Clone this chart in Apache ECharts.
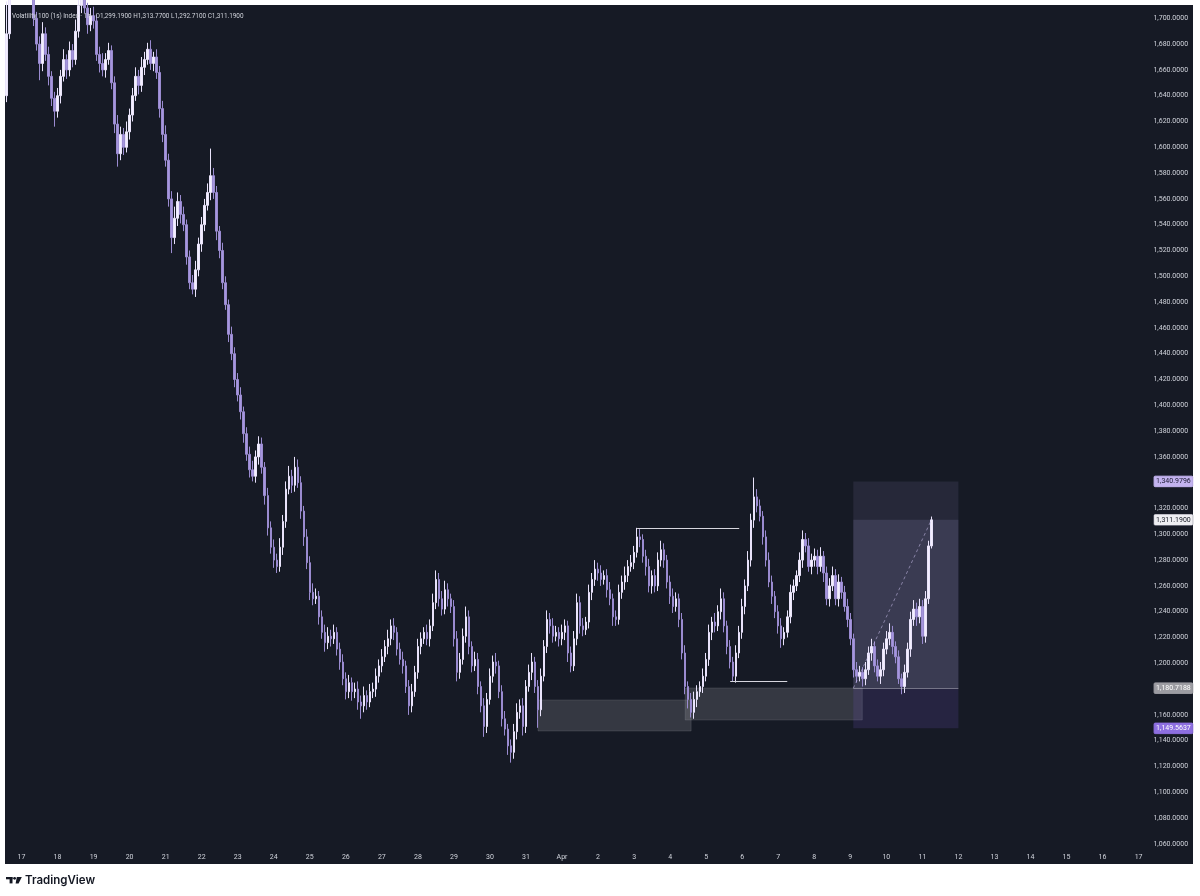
<!DOCTYPE html>
<html>
<head>
<meta charset="utf-8">
<script src="https://cdn.jsdelivr.net/npm/echarts@6/dist/echarts.min.js"></script>
<style>
html,body{margin:0;padding:0;background:#ffffff;}
#chart{width:1200px;height:896px;}
</style>
</head>
<body>
<div id="chart"></div>
<script>
// ---------- DATA ----------
const seriesTitle = 'Volatility 100 (1s) Index · 1h · O1,299.1900 H1,313.7700 L1,292.7100 C1,311.1900';
const startTimeUTC = Date.UTC(2025, 2, 16, 14);   // first bar: 16 Mar 14:00
const barHours = 2;
const totalBars = 381;                             // bars across the time scale (to 17 Apr)
const monthNames = ['Jan','Feb','Mar','Apr','May','Jun','Jul','Aug','Sep','Oct','Nov','Dec'];

const firstOpen = 1640;
const closes = [
 1688,1715,1726,1731,1722,
 1725,1730,1724,1716,1700,1680,1665,1688,1672,1655,1638,1628,
 1640,1655,1668,1660,1675,1668,1690,1710,1716,1708,1695,1702,
 1698,1672,1665,1660,1668,1675,1650,1618,1595,1610,1600,1612,
 1625,1640,1655,1648,1662,1668,1676,1665,1670,1658,1630,1610,
 1590,1560,1530,1545,1558,1548,1540,1515,1495,1490,1505,1525,
 1540,1555,1565,1578,1565,1535,1520,1495,1478,1455,1440,1420,
 1408,1395,1378,1362,1350,1345,1360,1370,1352,1330,1305,1290,
 1280,1275,1290,1310,1335,1345,1338,1352,1340,1318,1298,1278,
 1255,1250,1252,1236,1224,1216,1221,1219,1224,1211,1201,1188,
 1178,1185,1178,1180,1170,1167,1175,1170,1178,1180,1190,1198,
 1205,1213,1219,1229,1224,1211,1203,1198,1182,1167,1178,1193,
 1213,1219,1224,1219,1229,1247,1265,1250,1242,1257,1250,1244,
 1219,1193,1203,1221,1236,1213,1198,1203,1182,1167,1151,1172,
 1190,1201,1198,1178,1157,1149,1136,1131,1147,1162,1167,1151,
 1182,1193,1201,1182,1164,1190,1213,1234,1229,1221,1224,1219,
 1224,1229,1208,1198,1219,1247,1229,1226,1232,1255,1265,1273,
 1270,1265,1268,1257,1250,1236,1234,1255,1263,1268,1275,1278,
 1286,1298,1296,1283,1275,1260,1268,1260,1280,1288,1280,1263,
 1252,1244,1250,1234,1208,1182,1172,1162,1172,1178,1182,1190,
 1203,1224,1232,1229,1240,1250,1229,1213,1201,1190,1208,1224,
 1244,1260,1280,1311,1329,1322,1314,1298,1280,1263,1252,1240,
 1229,1219,1224,1236,1255,1260,1268,1280,1296,1291,1275,1280,
 1283,1275,1283,1270,1250,1260,1268,1250,1263,1255,1244,1234,
 1219,1195,1190,1193,1188,1195,1208,1213,1198,1190,1195,1211,
 1219,1224,1213,1205,1188,1182,1193,1211,1234,1242,1236,1244,
 1221,1250,1291,1311.19
];
const upperWick = [
 25,8,6,5,7,
 6,5,8,6,7,5,6,9,5,6,4,5,
 6,5,8,4,7,5,9,6,5,7,4,6,
 7,5,6,8,5,6,4,5,7,6,5,8,
 5,6,7,5,8,6,5,7,4,6,5,6,
 7,5,6,9,7,5,6,4,5,6,7,5,
 6,5,7,21,6,5,4,6,5,4,6,5,
 5,6,4,5,6,7,5,6,5,4,6,5,
 6,5,7,5,6,8,5,8,6,5,4,6,
 5,7,6,4,5,6,7,5,6,4,5,6,
 5,6,4,5,6,5,7,4,6,5,6,5,
 6,5,7,5,6,4,5,6,4,5,6,5,
 6,5,4,6,5,7,7,5,6,7,5,4,
 5,6,5,6,8,5,4,6,5,4,6,5,
 6,5,7,4,5,6,4,5,6,7,5,6,
 5,6,7,4,5,6,5,7,5,6,5,4,
 6,5,4,5,6,7,5,6,4,6,5,7,
 5,6,4,5,6,4,5,6,5,7,5,6,
 5,7,6,4,5,6,4,5,6,7,5,4,
 5,6,5,4,5,6,4,5,6,5,4,6,
 5,6,4,7,5,8,5,4,5,4,6,5,
 6,5,7,5,15,6,5,4,5,6,5,4,
 5,6,4,5,6,5,4,6,7,5,6,5,
 6,5,7,4,5,6,7,5,6,4,5,6,
 5,4,6,5,4,6,5,6,4,5,6,5,
 6,7,5,4,5,4,6,5,6,7,5,6,
 5,6,4,2.58
];
const lowerWick = [
 5,4,3,5,5,
 4,5,5,3,6,5,13,6,5,7,6,12,
 5,6,4,7,5,6,4,5,6,4,7,5,
 6,5,7,5,6,4,5,7,10,5,6,4,
 6,5,4,7,5,6,4,5,6,5,7,6,
 5,6,12,5,6,7,5,6,5,4,6,5,
 6,5,4,6,5,7,6,5,4,6,5,6,
 5,6,7,5,6,4,5,6,5,7,6,5,
 6,5,4,6,5,4,6,5,4,6,7,5,
 6,5,4,6,5,7,5,6,4,5,6,5,
 6,5,7,5,6,10,5,6,4,5,6,5,
 5,4,6,5,6,5,4,6,5,7,5,4,
 5,6,4,5,6,4,5,6,5,4,6,5,
 6,7,5,4,5,6,5,4,6,5,8,5,
 4,5,6,5,6,5,7,8,5,6,5,7,
 5,4,6,5,14,5,4,5,6,5,4,6,
 5,6,7,5,4,5,6,5,4,5,6,5,
 6,5,4,6,5,7,5,4,5,6,5,4,
 5,4,6,5,7,5,6,5,4,5,6,5,
 6,5,4,6,5,6,7,4,5,6,4,5,
 4,5,6,5,4,6,5,6,5,4,5,4,
 5,6,4,5,6,5,4,6,5,4,6,5,
 6,7,5,4,5,6,4,5,6,5,4,6,
 5,6,4,7,5,6,4,5,6,5,4,6,
 5,6,5,4,6,5,4,6,5,4,6,5,
 4,5,6,5,4,6,5,4,6,5,7,5,
 6,5,4,2
];

// price scale
const priceMin = 1040, priceMax = 1710.31, priceInterval = 20;
const priceLabelRange = [1060, 1700];
const hiddenPriceTicks = [1340, 1180];

// drawings: [startBar, endBar, top, bottom]
const demandZones = [
  [177, 228, 1171.6, 1147.5],
  [226, 285, 1180.9, 1156.0]
];
// horizontal rays: [startBar, endBar, price]
const levelLines = [
  [210, 244, 1304.9],
  [241, 260, 1186.3]
];
// long position tool
const longPos = { startBar: 282, endBar: 317, entryBar: 282, lastBar: 308,
  target: 1340.9796, entry: 1180.7188, stop: 1149.5637, last: 1311.19 };

// ---------- BUILD ----------
function fmt(v){
  const s = v.toFixed(4).split('.');
  return s[0].replace(/\B(?=(\d{3})+(?!\d))/g, ',') + '.' + s[1];
}
const categories = [];
for (let k = 0; k < totalBars; k++) {
  const d = new Date(startTimeUTC + k * barHours * 3600e3);
  categories.push(d.getUTCFullYear() + '-' + (d.getUTCMonth()+1) + '-' + d.getUTCDate() + ' ' + d.getUTCHours());
}
const ohlc = closes.map((c, i) => {
  const o = i === 0 ? firstOpen : closes[i-1];
  return [o, c, Math.min(o, c) - lowerWick[i], Math.max(o, c) + upperWick[i]];
});

const FONT = 'Roboto, "Open Sans", sans-serif';
const TXT = '#d1d4dc';

const priceTags = [
  { v: longPos.target, bg: '#c3b3ef', fg: '#1c1a33', border: '#c3b3ef' },
  { v: longPos.last,   bg: '#eeeef2', fg: '#131722', border: '#9a9aa8' },
  { v: longPos.entry,  bg: '#9c9ca2', fg: '#ffffff', border: '#9c9ca2' },
  { v: longPos.stop,   bg: '#8d6fe0', fg: '#ffffff', border: '#8d6fe0' }
];

const markLineData = [];
priceTags.forEach(t => markLineData.push({
  yAxis: t.v,
  lineStyle: { color: 'rgba(0,0,0,0)', width: 0 },
  label: { show: true, position: 'end', distance: 5, formatter: fmt(t.v),
    backgroundColor: t.bg, borderColor: t.border, borderWidth: 0.5, color: t.fg, fontSize: 7, fontFamily: FONT,
    padding: [2, 2, 1.5, 2], borderRadius: 1 }
}));
levelLines.forEach(l => markLineData.push([
  { xAxis: l[0], yAxis: l[2], lineStyle: { color: '#d6d6de', width: 1, type: 'solid' }, label: { show: false } },
  { xAxis: l[1], yAxis: l[2] }
]));
markLineData.push([
  { xAxis: longPos.entryBar, yAxis: longPos.entry, lineStyle: { color: 'rgba(200,190,235,0.55)', width: 1, type: [3, 3] }, label: { show: false } },
  { xAxis: longPos.lastBar, yAxis: longPos.last }
]);
markLineData.push([
  { xAxis: longPos.startBar, yAxis: longPos.entry, lineStyle: { color: 'rgba(210,210,220,0.45)', width: 1, type: 'solid' }, label: { show: false } },
  { xAxis: longPos.endBar, yAxis: longPos.entry }
]);

const markAreaData = [];
demandZones.forEach(z => markAreaData.push([
  { xAxis: z[0], yAxis: z[2], itemStyle: { color: 'rgba(205,205,215,0.17)', borderColor: 'rgba(220,220,230,0.12)', borderWidth: 1 } },
  { xAxis: z[1], yAxis: z[3] }
]));
markAreaData.push([
  { xAxis: longPos.startBar, yAxis: longPos.target, itemStyle: { color: 'rgba(150,140,195,0.13)' } },
  { xAxis: longPos.endBar, yAxis: longPos.entry }
]);
markAreaData.push([
  { xAxis: longPos.startBar, yAxis: longPos.last, itemStyle: { color: 'rgba(170,160,215,0.16)' } },
  { xAxis: longPos.endBar, yAxis: longPos.entry }
]);
markAreaData.push([
  { xAxis: longPos.startBar, yAxis: longPos.entry, itemStyle: { color: 'rgba(120,90,205,0.17)' } },
  { xAxis: longPos.endBar, yAxis: longPos.stop }
]);

const chart = echarts.init(document.getElementById('chart'), null, { renderer: 'canvas' });
chart.setOption({
  animation: false,
  backgroundColor: '#ffffff',
  textStyle: { fontFamily: FONT },
  title: [
    { text: seriesTitle, left: 7, top: 8, textStyle: { fontSize: 6.4, color: TXT, fontWeight: 'normal', fontFamily: FONT } }
  ],
  graphic: [
    { type: 'rect', z: -10, silent: true, shape: { x: 5, y: 5, width: 1188, height: 859 }, style: { fill: '#161a25' } },
    { type: 'rect', silent: true, shape: { x: 6, y: 877, width: 6.5, height: 2.3 }, style: { fill: '#131722' } },
    { type: 'rect', silent: true, shape: { x: 9.6, y: 877, width: 2.9, height: 6.4 }, style: { fill: '#131722' } },
    { type: 'circle', silent: true, shape: { cx: 14.6, cy: 878.3, r: 1.4 }, style: { fill: '#131722' } },
    { type: 'polygon', silent: true, shape: { points: [[16.8, 877], [21.8, 877], [18.6, 883.4], [15.6, 883.4]] }, style: { fill: '#131722' } },
    { type: 'text', silent: true, style: { text: 'TradingView', x: 25, y: 880.5, verticalAlign: 'middle', fill: '#131722', font: '600 11.5px Inter, "Open Sans", sans-serif' } }
  ],
  grid: { left: 5, right: 50.9, top: 5, bottom: 26.3, containLabel: false },
  xAxis: {
    type: 'category', data: categories, boundaryGap: true,
    axisLine: { show: false }, axisTick: { show: false }, splitLine: { show: false },
    axisLabel: {
      inside: true, margin: 9, color: TXT, fontSize: 7, fontFamily: FONT, hideOverlap: false,
      interval: (idx, val) => val.endsWith(' 0'),
      formatter: (val) => { const p = val.split(' ')[0].split('-'); return p[2] === '1' ? monthNames[+p[1]-1] : p[2]; }
    }
  },
  yAxis: {
    type: 'value', position: 'right', min: priceMin, max: priceMax, interval: priceInterval,
    axisLine: { show: false }, axisTick: { show: false }, splitLine: { show: false },
    axisLabel: {
      align: 'right', margin: 39, color: TXT, fontSize: 7, fontFamily: FONT, showMaxLabel: false,
      formatter: (v) => (v < priceLabelRange[0] || v > priceLabelRange[1] || hiddenPriceTicks.includes(v)) ? '' : fmt(v)
    }
  },
  series: [{
    type: 'candlestick',
    data: ohlc,
    barWidth: 2,
    clip: true,
    silent: true,
    itemStyle: { color: '#f3effd', color0: '#a696de', borderColor: '#e9e3fb', borderColor0: '#9a8bd0', borderWidth: 1 },
    markArea: { silent: true, label: { show: false }, data: markAreaData },
    markLine: { silent: true, symbol: ['none', 'none'], animation: false, data: markLineData }
  }]
});
</script>
</body>
</html>
